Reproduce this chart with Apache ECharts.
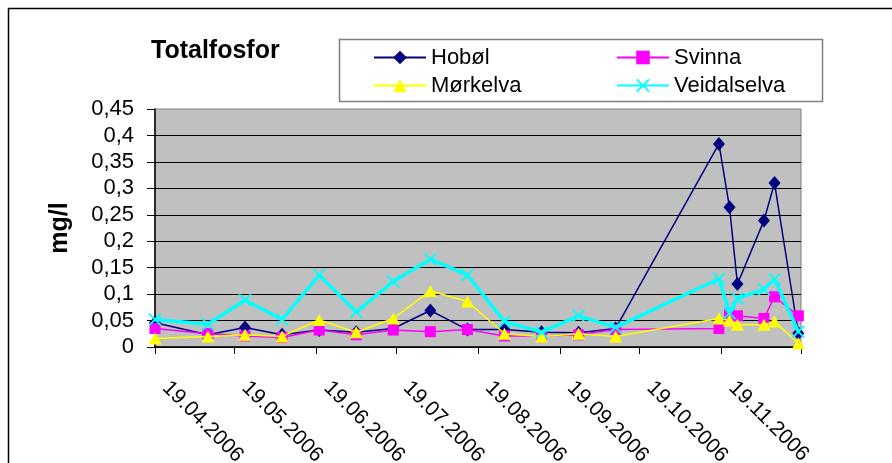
<!DOCTYPE html>
<html>
<head>
<meta charset="utf-8">
<script src="https://cdn.jsdelivr.net/npm/echarts@6/dist/echarts.min.js"></script>
<style>
  html, body { margin: 0; padding: 0; background: #fff; }
  #main { width: 892px; height: 463px; }
</style>
</head>
<body>
<div id="main"></div>
<script>
// Dates des prélèvements (2006)
const sampleDates = [
  '2006-04-19', '2006-05-09', '2006-05-23', '2006-06-06', '2006-06-20',
  '2006-07-04', '2006-07-18', '2006-08-01', '2006-08-15', '2006-08-29',
  '2006-09-12', '2006-09-26', '2006-10-10', '2006-11-18', '2006-11-22',
  '2006-11-25', '2006-12-05', '2006-12-09', '2006-12-18'
];

const hobol = [0.046, 0.023, 0.037, 0.023, 0.032, 0.028, 0.035, 0.069, 0.033, 0.033,
  0.028, 0.027, 0.035, 0.384, 0.264, 0.119, 0.239, 0.310, 0.026];
const svinna = [0.035, 0.025, 0.021, 0.018, 0.032, 0.023, 0.032, 0.029, 0.033, 0.021,
  0.021, 0.023, 0.033, 0.035, 0.064, 0.059, 0.054, 0.095, 0.059];
const morkelva = [0.016, 0.020, 0.023, 0.020, 0.051, 0.028, 0.054, 0.106, 0.086, 0.025,
  0.020, 0.025, 0.020, 0.054, 0.050, 0.042, 0.042, 0.048, 0.007];
const veidalselva = [0.052, 0.043, 0.089, 0.052, 0.136, 0.066, 0.124, 0.166, 0.136, 0.048,
  0.028, 0.059, 0.037, 0.129, 0.064, 0.092, 0.109, 0.128, 0.029];

// Graduations de l'axe des dates (une par mois, le 19)
const tickDates = [
  '2006-04-19', '2006-05-19', '2006-06-19', '2006-07-19', '2006-08-19',
  '2006-09-19', '2006-10-19', '2006-11-19', '2006-12-19'
];
const labelDates = tickDates.slice( 0, 8 );

const yTicks = [0, 0.05, 0.1, 0.15, 0.2, 0.25, 0.3, 0.35, 0.4, 0.45];

const DAY = 86400000;

function toTime ( iso ) {
  const [ y, m, d ] = iso.split( '-' ).map( Number );
  return Date.UTC( y, m - 1, d );
}

const t0 = toTime( tickDates[ 0 ] );

// Nombre de jours depuis le premier prélèvement
function toDay ( iso ) {
  return Math.round( ( toTime( iso ) - t0 ) / DAY );
}

function pad ( n ) {
  return n < 10 ? '0' + n : '' + n;
}

function pairs ( values ) {
  return values.map( ( v, i ) => [ toDay( sampleDates[ i ] ), v ] );
}

const crossPath = 'path://M0,1L1,0L5,4L9,0L10,1L6,5L10,9L9,10L5,6L1,10L0,9L4,5Z';
const font = '"Liberation Sans", Arial, sans-serif';

const chart = echarts.init( document.getElementById( 'main' ), null, { renderer: 'canvas' } );

const legendText = { fontFamily: font, fontSize: 22, color: '#000', lineHeight: 23 };

const option = {
  animation: false,
  backgroundColor: '#ffffff',
  textStyle: { fontFamily: font },
  title: {
    text: 'Totalfosfor',
    left: 146,
    top: 34,
    textStyle: { fontFamily: font, fontWeight: 'bold', fontSize: 25, color: '#000' }
  },
  graphic: [
    {
      type: 'rect',
      shape: { x: 8.5, y: 8.5, width: 1200, height: 1200 },
      style: { fill: null, stroke: '#000', lineWidth: 1.5 },
      silent: true
    },
    {
      type: 'rect',
      shape: { x: 339.5, y: 39.5, width: 483, height: 62 },
      style: { fill: '#fff', stroke: '#808080', lineWidth: 1.5 },
      silent: true,
      z: 0
    }
  ],
  legend: [
    {
      data: [ 'Hobøl', 'Mørkelva' ],
      orient: 'vertical',
      left: 368,
      top: 41,
      itemWidth: 52,
      itemHeight: 17,
      itemGap: 5,
      textStyle: legendText,
      z: 5
    },
    {
      data: [ 'Svinna', 'Veidalselva' ],
      orient: 'vertical',
      left: 611,
      top: 41,
      itemWidth: 52,
      itemHeight: 17,
      itemGap: 5,
      textStyle: legendText,
      z: 5
    }
  ],
  grid: {
    left: 155,
    right: 91,
    top: 109,
    bottom: 116,
    outerBoundsMode: 'none',
    containLabel: false,
    show: true,
    backgroundColor: '#c0c0c0',
    borderColor: '#808080',
    borderWidth: 1
  },
  xAxis: {
    type: 'value',
    min: 0,
    max: toDay( tickDates[ tickDates.length - 1 ] ),
    axisLine: { show: true, lineStyle: { color: '#000', width: 1.5 } },
    axisTick: {
      show: true,
      length: 7,
      lineStyle: { color: '#000' },
      customValues: tickDates.map( toDay )
    },
    axisLabel: {
      customValues: labelDates.map( toDay ),
      rotate: -45,
      margin: 27,
      padding: [ 0, 0, 0, 15 ],
      fontFamily: font,
      fontSize: 21,
      color: '#000',
      formatter: ( val ) => {
        const d = new Date( t0 + val * DAY );
        return pad( d.getUTCDate() ) + '.' + pad( d.getUTCMonth() + 1 ) + '.' + d.getUTCFullYear();
      }
    },
    splitLine: { show: false }
  },
  yAxis: {
    type: 'value',
    min: yTicks[ 0 ],
    max: yTicks[ yTicks.length - 1 ],
    interval: 0.05,
    name: 'mg/l',
    nameLocation: 'middle',
    nameRotate: 90,
    nameGap: 82,
    nameTextStyle: { fontFamily: font, fontWeight: 'bold', fontSize: 25, color: '#000' },
    axisLine: { show: true, lineStyle: { color: '#000', width: 1.5 } },
    axisTick: { show: true, length: 8, lineStyle: { color: '#000' } },
    axisLabel: {
      margin: 21,
      fontFamily: font,
      fontSize: 22,
      color: '#000',
      formatter: ( v ) => String( +v.toFixed( 2 ) ).replace( '.', ',' )
    },
    splitLine: { show: true, showMaxLine: false, lineStyle: { color: '#000', width: 1 } }
  },
  series: [
    {
      name: 'Hobøl',
      type: 'line',
      data: pairs( hobol ),
      symbol: 'diamond',
      symbolSize: [ 12, 14 ],
      color: '#000080',
      lineStyle: { color: '#000080', width: 1.5 },
      itemStyle: { color: '#000080' },
      z: 2
    },
    {
      name: 'Svinna',
      type: 'line',
      data: pairs( svinna ),
      symbol: 'rect',
      symbolSize: 11,
      color: '#ff00ff',
      lineStyle: { color: '#ff00ff', width: 1.5 },
      itemStyle: { color: '#ff00ff' },
      z: 3
    },
    {
      name: 'Mørkelva',
      type: 'line',
      data: pairs( morkelva ),
      symbol: 'triangle',
      symbolSize: [ 13, 12 ],
      color: '#ffff00',
      lineStyle: { color: '#ffff00', width: 1.5 },
      itemStyle: { color: '#ffff00' },
      z: 4
    },
    {
      name: 'Veidalselva',
      type: 'line',
      data: pairs( veidalselva ),
      symbol: crossPath,
      symbolSize: 13,
      color: '#00ffff',
      lineStyle: { color: '#00ffff', width: 3.5 },
      itemStyle: { color: '#00ffff' },
      z: 5
    }
  ]
};

chart.setOption( option );
</script>
</body>
</html>
